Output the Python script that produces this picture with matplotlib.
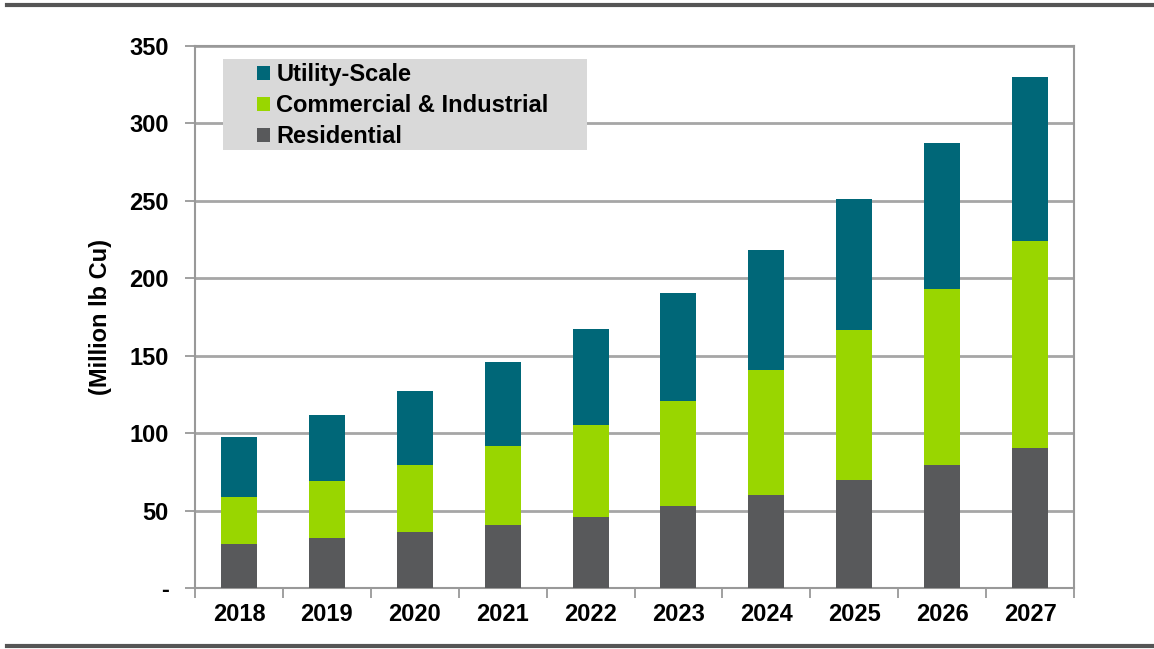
import matplotlib.pyplot as plt
import numpy as np
from matplotlib.lines import Line2D
from matplotlib.patches import Rectangle

years = ['2018', '2019', '2020', '2021', '2022', '2023', '2024', '2025', '2026', '2027']
residential = [28.5, 32, 36, 40.5, 46, 53, 60, 70, 79.5, 90.5]
commercial = [30, 37, 43.5, 51, 59, 68, 80.5, 96.5, 113.5, 133.5]
utility = [39, 43, 48, 54.5, 62, 69.5, 77.5, 85, 94.5, 106]

yticks = [0, 50, 100, 150, 200, 250, 300, 350]
yticklabels = ['-', '50', '100', '150', '200', '250', '300', '350']

plt.rcParams['font.family'] = ['Liberation Sans', 'DejaVu Sans']
plt.rcParams['font.weight'] = 'bold'

fig = plt.figure(figsize=(11.54, 6.49), dpi=100)
ax = fig.add_axes([0.169, 0.094, 0.7617, 0.835])

x = np.arange(len(years))
res = np.array(residential)
com = np.array(commercial)
uti = np.array(utility)
w = 0.41
ax.bar(x, res, w, color='#58595b', label='Residential', zorder=3)
ax.bar(x, com, w, bottom=res, color='#99d600', label='Commercial & Industrial', zorder=3)
ax.bar(x, uti, w, bottom=res + com, color='#006778', label='Utility-Scale', zorder=3)

ax.set_xlim(-0.5, len(years) - 0.5)
ax.set_ylim(0, 350)
ax.set_yticks(yticks)
ax.set_yticklabels(yticklabels, fontsize=17, fontweight='bold')
ax.set_xticks(x)
ax.set_xticklabels(years, fontsize=17, fontweight='bold')
ax.set_xticks(np.arange(-0.5, len(years)), minor=True)
ax.tick_params(axis='x', which='major', length=0, pad=11)
ax.tick_params(axis='x', which='minor', length=7, width=1.3, color='#999999')
ax.tick_params(axis='y', length=7, width=1.3, color='#999999', pad=12)
ax.grid(axis='y', color='#a6a6a6', linewidth=2, zorder=0)
for s in ax.spines.values():
    s.set_color('#999999')
    s.set_linewidth(1.5)

ax.set_ylabel('(Million lb Cu)', fontsize=17, fontweight='bold', labelpad=12)

# grey legend box
ax.add_patch(Rectangle((0.032, 0.808), 0.414, 0.168, transform=ax.transAxes,
                       facecolor='#d9d9d9', edgecolor='none', zorder=4))

handles, labels = ax.get_legend_handles_labels()
leg = ax.legend(handles[::-1], labels[::-1], loc='upper left', bbox_to_anchor=(0.071, 0.968),
                fontsize=17, frameon=False,
                handlelength=0.55, handleheight=0.55, handletextpad=0.25, labelspacing=0.33,
                borderpad=0, borderaxespad=0)
leg.set_zorder(5)
for t in leg.get_texts():
    t.set_fontweight('bold')

fig.add_artist(Line2D([0.006, 1.0], [0.993, 0.993], color='#555555', linewidth=3))
fig.add_artist(Line2D([0.006, 1.0], [0.005, 0.005], color='#555555', linewidth=3))

fig.savefig('out.png', dpi=100)
